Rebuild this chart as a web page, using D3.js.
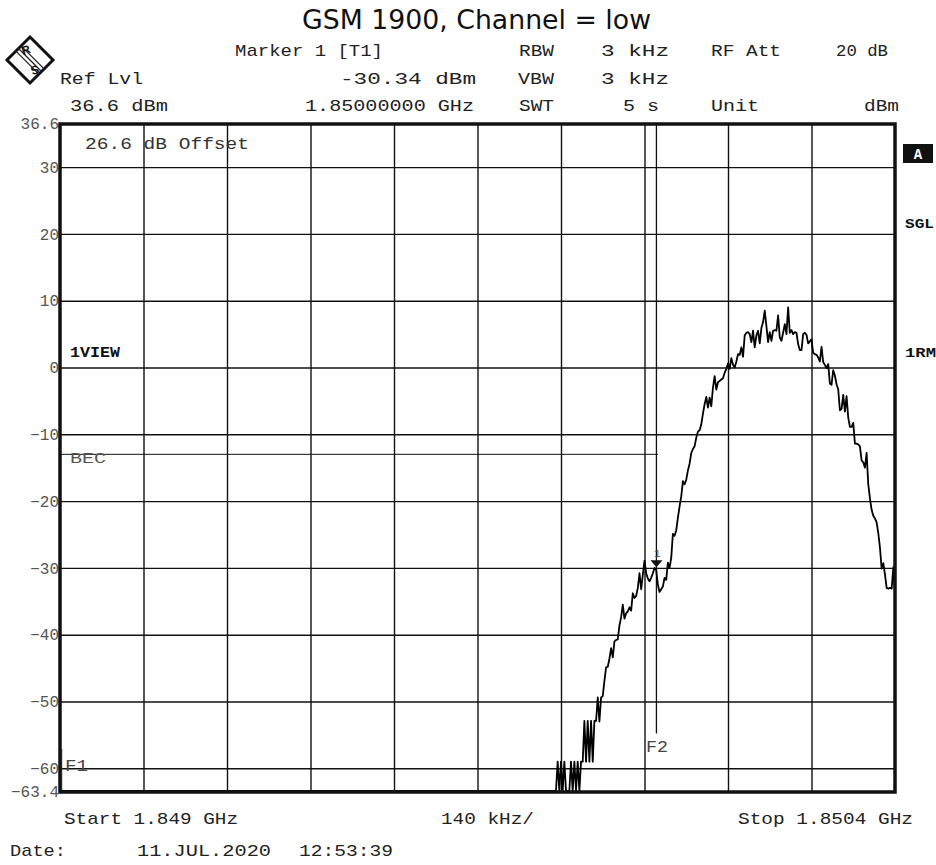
<!DOCTYPE html>
<html><head><meta charset="utf-8">
<script src="https://cdn.jsdelivr.net/npm/d3@7"></script>
<style>body{margin:0;background:#fff}svg{display:block}</style>
</head><body>
<svg id="c" width="936" height="865"></svg>
<script>
// ---------------- data ----------------
const titleText = "GSM 1900, Channel = low";
const startMHz = 1849.0, stopMHz = 1850.4;
const refLvl = 36.6, bottomLvl = -63.4;
const yTickValues = [36.6, 30, 20, 10, 0, -10, -20, -30, -40, -50, -60, -63.4];
const yGridValues = [30, 20, 10, 0, -10, -20, -30, -40, -50, -60];
const xGridValues = [1849.14, 1849.28, 1849.42, 1849.56, 1849.70, 1849.84, 1849.98, 1850.12, 1850.26];
const sweepStepMHz = 0.0028;          // 1.4 MHz / 500 sweep points
const traceFloorDbm = -63.4;          // trace sits on the bottom of the screen up to here
const traceFloorEndIndex = 297;
const traceFirstIndex = 298;
const traceDbm = [
  -59.0,-63.4,-59.0,-63.4,-59.0,-63.4,-63.4,-63.4,-59.0,-63.4,
  -59.0,-63.4,-59.0,-63.4,-59.0,-59.0,-52.9,-59.0,-52.9,-59.0,
  -52.9,-59.0,-52.9,-52.9,-49.4,-53.0,-49.4,-49.2,-46.9,-44.9,
  -44.8,-43.6,-42.0,-43.4,-41.0,-40.8,-40.7,-38.6,-37.4,-35.5,
  -37.6,-36.8,-36.5,-35.9,-36.4,-33.8,-34.5,-34.2,-33.0,-30.8,
  -33.2,-31.0,-28.9,-30.8,-31.6,-32.0,-31.5,-30.8,-30.0,-30.3,
  -32.5,-33.6,-33.2,-32.8,-31.5,-31.8,-29.2,-30.0,-28.5,-24.9,
  -25.2,-24.4,-22.5,-20.8,-19.3,-17.0,-17.5,-16.8,-15.4,-14.4,
  -12.8,-12.2,-11.8,-10.5,-9.6,-9.4,-8.5,-6.9,-5.5,-4.4,
  -6.0,-4.5,-5.8,-3.0,-1.3,-3.3,-2.2,-2.0,-1.8,-1.6,
  -0.8,-0.2,0.6,-0.2,1.4,0.4,0.0,0.9,2.0,1.9,
  3.0,1.6,4.8,5.2,5.3,5.0,3.8,5.5,3.0,4.8,
  5.5,3.6,5.9,6.8,8.5,6.2,3.8,5.3,4.0,5.5,
  5.6,5.5,7.8,4.5,4.0,5.2,6.5,5.0,9.0,5.2,
  5.6,5.0,5.3,5.2,3.5,2.6,2.6,5.0,5.2,4.9,
  3.6,3.9,4.2,2.2,2.0,1.9,1.5,0.9,3.1,0.8,
  0.4,-0.1,0.5,-2.4,-2.6,-0.4,-1.2,-2.5,-3.3,-6.4,
  -6.2,-4.1,-6.6,-4.3,-7.5,-8.9,-8.9,-8.3,-11.4,-11.4,
  -11.5,-11.8,-13.9,-14.2,-15.0,-12.8,-17.5,-19.6,-21.3,-22.2,
  -22.6,-23.2,-24.8,-27.0,-30.1,-29.3,-31.0,-33.0,-33.1,-33.0,
  -33.1,-29.9,-33.9
];
const markerMHz = 1850.0, markerDbm = -30.34;
const limitDbm = -13;                 // "BEC" display line
const f1MHz = 1849.003, f1TopDbm = -57.1;
const f2MHz = 1850.0, f2BottomDbm = -54.8;

const headerRows = [
  [["Marker 1 [T1]",235,148],["RBW",519,35],["3 kHz",601,68],["RF Att",711,70],["20 dB",836,52]],
  [["Ref Lvl",60,83],["-30.34 dBm",340,136],["VBW",518,36],["3 kHz",601,68]],
  [["36.6 dBm",70,98],["1.85000000 GHz",305,169],["SWT",519,35],["5 s",623,36],["Unit",711,48],["dBm",864,35]]
];
const footerRows = [
  [["Start 1.849 GHz",64,174],["140 kHz/",441,93],["Stop 1.8504 GHz",738,175]],
  [["Date:",10,56],["11.JUL.2020",137,134],["12:53:39",299,94]]
];

// ---------------- drawing ----------------
const svg = d3.select("#c");
const mono = "'Liberation Mono','DejaVu Sans Mono',monospace";
const L = 60, R = 895, T = 123, B = 791;
const x = d3.scaleLinear().domain([startMHz, stopMHz]).range([L, R]);
const y = d3.scaleLinear().domain([bottomLvl, refLvl]).range([B, T]);

function txt(g, s, px, py, o = {}) {
  const t = g.append("text").attr("x", px).attr("y", py).text(s)
    .attr("font-family", o.family || mono)
    .attr("font-size", o.size || 17)
    .attr("fill", o.fill || "#222")
    .attr("font-weight", o.weight || "normal");
  if (o.anchor) t.attr("text-anchor", o.anchor);
  if (o.w) t.attr("textLength", o.w).attr("lengthAdjust", "spacingAndGlyphs");
  return t;
}

// title
txt(svg, titleText, 302, 29, {family: "'DejaVu Sans',Verdana,sans-serif", size: 26, fill: "#111", w: 349});

// header
const hb = [56, 84, 111];
headerRows.forEach((row, i) => row.forEach(([s, px, w]) => txt(svg, s, px, hb[i], {w})));
const fb = [824, 856];
footerRows.forEach((row, i) => row.forEach(([s, px, w]) => txt(svg, s, px, fb[i], {w})));

// logo
const logo = svg.append("g");
logo.append("path").attr("d", "M30,37 L53,60 L30,83 L7,60 Z").attr("fill", "#fff")
  .attr("stroke", "#111").attr("stroke-width", 3);
[-2.6, 0, 2.6].forEach(o => logo.append("line")
  .attr("x1", 18.5 + o).attr("y1", 48.5 - o).attr("x2", 41.5 + o).attr("y2", 71.5 - o)
  .attr("stroke", "#222").attr("stroke-width", 1.3));
txt(logo, "R", 26, 54, {family: "'Liberation Sans',sans-serif", size: 12, weight: "bold", anchor: "middle", fill: "#111"})
  .attr("transform", "rotate(-20,26,50)");
txt(logo, "S", 35, 74, {family: "'Liberation Sans',sans-serif", size: 12, weight: "bold", anchor: "middle", fill: "#111"})
  .attr("transform", "rotate(-20,35,70)");

// grid
const grid = svg.append("g");
grid.append("g").attr("transform", `translate(0,${B})`)
  .call(d3.axisBottom(x).tickValues(xGridValues).tickSize(-(B - T)).tickFormat(""))
  .call(g => { g.select(".domain").remove(); g.selectAll("line").attr("stroke", "#111").attr("stroke-width", 1.4); });
grid.append("g").attr("transform", `translate(${L},0)`)
  .call(d3.axisRight(y).tickValues(yGridValues).tickSize(R - L).tickFormat(""))
  .call(g => { g.select(".domain").remove(); g.selectAll("line").attr("stroke", "#111").attr("stroke-width", 1.4); });

// y labels
svg.append("g").attr("transform", `translate(${L - 1},0)`)
  .call(d3.axisLeft(y).tickValues(yTickValues).tickSize(0).tickPadding(0)
    .tickFormat(d => (Math.round(d * 10) / 10).toString().replace("-", "\u2212")))
  .call(g => {
    g.select(".domain").remove();
    g.selectAll("text").attr("font-family", mono).attr("font-size", 16).attr("fill", "#555");
  });

// limit line
svg.append("line").attr("x1", L).attr("x2", x(f2MHz) + 1.5)
  .attr("y1", y(limitDbm)).attr("y2", y(limitDbm)).attr("stroke", "#111").attr("stroke-width", 1);

// F lines
svg.append("line").attr("x1", x(f2MHz)).attr("x2", x(f2MHz)).attr("y1", T).attr("y2", y(f2BottomDbm))
  .attr("stroke", "#111").attr("stroke-width", 1.3);
svg.append("line").attr("x1", x(f1MHz)).attr("x2", x(f1MHz)).attr("y1", y(f1TopDbm)).attr("y2", B)
  .attr("stroke", "#555").attr("stroke-width", 1);

// trace
const pts = [{f: startMHz, v: traceFloorDbm}, {f: startMHz + traceFloorEndIndex * sweepStepMHz, v: traceFloorDbm}]
  .concat(traceDbm.map((v, i) => ({f: startMHz + (traceFirstIndex + i) * sweepStepMHz, v})));
svg.append("clipPath").attr("id", "clip").append("rect")
  .attr("x", L).attr("y", T).attr("width", R - L + 2).attr("height", B - T);
svg.append("path").datum(pts).attr("clip-path", "url(#clip)")
  .attr("d", d3.line().x(d => x(d.f)).y(d => y(d.v)))
  .attr("fill", "none").attr("stroke", "#000").attr("stroke-width", 1.8).attr("stroke-linejoin", "round");

// marker
const mx = x(markerMHz), my = y(markerDbm) - 3;
svg.append("path").attr("d", `M${mx - 6},${my - 7} L${mx + 6},${my - 7} L${mx},${my} Z`).attr("fill", "#111");
txt(svg, "1", mx + 1, my - 10, {size: 11, fill: "#555", anchor: "middle"});

// frame
svg.append("rect").attr("x", L).attr("y", T + 1).attr("width", R - L).attr("height", B - T)
  .attr("fill", "none").attr("stroke", "#111").attr("stroke-width", 3.5);

// in-screen labels
txt(svg, "26.6 dB Offset", 85, 149, {w: 164, fill: "#333"});
txt(svg, "1VIEW", 70, 357, {size: 14, weight: "bold", w: 50, fill: "#111"});
txt(svg, "BEC", 70, 463, {size: 15, w: 36, fill: "#555"});
txt(svg, "F1", 65, 771, {size: 16, w: 23, fill: "#444"});
txt(svg, "F2", 646, 752, {size: 16, w: 22, fill: "#444"});

// right side enhancement labels
svg.append("rect").attr("x", 903).attr("y", 144).attr("width", 30).attr("height", 19).attr("fill", "#111");
txt(svg, "A", 918, 159, {size: 14, weight: "bold", fill: "#fff", anchor: "middle"});
txt(svg, "SGL", 905, 228, {size: 12, weight: "bold", w: 29, fill: "#111"});
txt(svg, "1RM", 905, 357, {size: 12, weight: "bold", w: 31, fill: "#111"});
</script>
</body></html>
